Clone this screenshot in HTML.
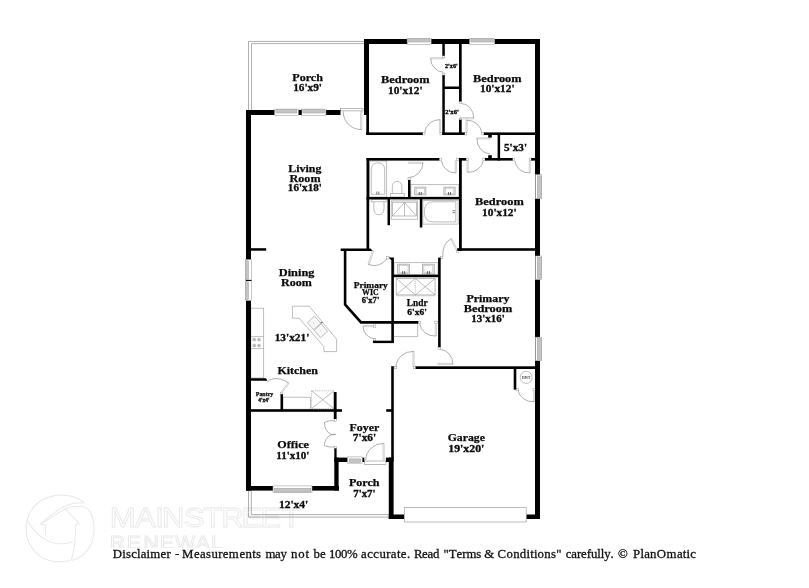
<!DOCTYPE html>
<html lang="en"><head><meta charset="utf-8"><title>Floor plan</title>
<style>
html,body{margin:0;padding:0;background:#fff;}
body{width:809px;height:588px;overflow:hidden;font-family:"Liberation Serif",serif;}
svg{display:block;}
</style></head><body>
<svg width="809" height="588" viewBox="0 0 809 588" style="will-change:transform">
<rect width="809" height="588" fill="#fff"/>
<g id="wm">
<g transform="translate(15,485) scale(0.1445)" fill="none" stroke="#e8e8e8" stroke-width="7" stroke-linejoin="round">
<path d="M85 245 C110 120 250 40 400 80 C440 93 465 108 480 125 C420 118 350 138 300 172 C250 205 210 240 180 268"/>
<path d="M175 272 L345 165 L445 265 L420 275 C420 360 412 440 390 522 M175 272 L210 277 V350"/>
<path d="M345 163 C420 140 480 140 512 172 C562 250 560 380 500 452 C470 490 430 515 390 522"/>
<path d="M85 245 C60 330 90 430 170 490 C230 532 310 542 378 522 M85 245 C130 320 200 390 290 405 C330 410 370 405 402 395"/>
</g>
<text transform="scale(1.1,1)" x="99.75 122.84 141.15 147.39 166.96 184.71 201.26 219.61 236.66 256.12" y="527.4" font-family="'Liberation Sans', sans-serif" font-size="28.4" fill="#fff" stroke="#e8e8e8" stroke-width="0.85">MAINSTREET</text>
<clipPath id="rc"><rect x="100" y="530" width="140" height="18"/></clipPath>
<g clip-path="url(#rc)">
<text transform="scale(1.17,1)" x="93.87 108.28 122.40 136.50 149.53 167.30 180.24" y="549.2" font-family="'Liberation Sans', sans-serif" font-size="18.4" fill="#fff" stroke="#e8e8e8" stroke-width="0.85">RENEWAL</text>
</g>
</g>
<g id="thin">
<path d="M248.5 110 V41.45 H364" stroke="#8c8c8c" stroke-width="0.7" fill="none" />
<path d="M251.5 110 V43.6 H364" stroke="#8c8c8c" stroke-width="0.7" fill="none" />
<path d="M248.5 490.5 V517.1 H389" stroke="#8c8c8c" stroke-width="0.7" fill="none" />
<path d="M251.3 490.5 V514.6 H389" stroke="#8c8c8c" stroke-width="0.7" fill="none" />
</g>
<g id="fix">
<rect x="369.50" y="161.00" width="17.20" height="36.00" fill="none" stroke="#a2a2a2" stroke-width="0.7" />
<path d="M371.3 194.3 V170 Q371.3 162.8 378 162.8 Q384.7 162.8 384.7 170 V194.3 Z" stroke="#a2a2a2" stroke-width="0.7" fill="none" />
<line x1="376.80" y1="191.50" x2="376.80" y2="194.50" stroke="#555" stroke-width="0.8"/>
<line x1="378.80" y1="191.50" x2="378.80" y2="194.50" stroke="#555" stroke-width="0.8"/>
<rect x="390.70" y="193.40" width="13.50" height="3.60" fill="none" stroke="#a2a2a2" stroke-width="0.7" />
<path d="M392.3 193.4 V187 Q392.3 181.4 397.1 181.4 Q401.9 181.4 401.9 187 V193.4" stroke="#a2a2a2" stroke-width="0.7" fill="none" />
<rect x="410.90" y="184.70" width="47.90" height="12.30" fill="none" stroke="#a2a2a2" stroke-width="0.7" />
<rect x="414.70" y="187.10" width="11.20" height="7.80" fill="#e6e6e6" stroke="#a2a2a2" stroke-width="0.7" />
<rect x="416.20" y="188.30" width="8.20" height="5.40" fill="#fff" stroke="#b5b5b5" stroke-width="0.5" />
<line x1="419.30" y1="192.00" x2="419.30" y2="195.00" stroke="#444" stroke-width="0.8"/>
<line x1="421.30" y1="192.00" x2="421.30" y2="195.00" stroke="#444" stroke-width="0.8"/>
<rect x="443.90" y="187.10" width="11.20" height="7.80" fill="#e6e6e6" stroke="#a2a2a2" stroke-width="0.7" />
<rect x="445.40" y="188.30" width="8.20" height="5.40" fill="#fff" stroke="#b5b5b5" stroke-width="0.5" />
<line x1="448.50" y1="192.00" x2="448.50" y2="195.00" stroke="#444" stroke-width="0.8"/>
<line x1="450.50" y1="192.00" x2="450.50" y2="195.00" stroke="#444" stroke-width="0.8"/>
<rect x="371.20" y="199.40" width="15.00" height="2.40" fill="none" stroke="#a2a2a2" stroke-width="0.7" />
<path d="M373.8 201.8 V208 Q373.8 214.7 378.9 214.7 Q384 214.7 384 208 V201.8" stroke="#a2a2a2" stroke-width="0.7" fill="none" />
<rect x="391.20" y="200.90" width="26.50" height="18.30" fill="none" stroke="#a2a2a2" stroke-width="0.7" />
<rect x="392.40" y="202.20" width="24.10" height="13.80" fill="none" stroke="#a2a2a2" stroke-width="0.7" />
<path d="M404.5 202.4 L392.6 215.9 M404.5 202.4 L416.4 215.9 M404.5 202.4 V215.9" stroke="#a2a2a2" stroke-width="0.7" fill="none" />
<rect x="422.90" y="200.30" width="35.20" height="23.80" fill="none" stroke="#a2a2a2" stroke-width="0.7" />
<path d="M455.8 201.8 H433 Q424.4 201.8 424.4 211.8 Q424.4 221.9 433 221.9 H455.8 Z" stroke="#a2a2a2" stroke-width="0.7" fill="none" />
<line x1="452.50" y1="210.70" x2="455.00" y2="210.70" stroke="#555" stroke-width="0.8"/>
<line x1="452.50" y1="212.70" x2="455.00" y2="212.70" stroke="#555" stroke-width="0.8"/>
<rect x="394.00" y="262.70" width="44.00" height="12.10" fill="none" stroke="#a2a2a2" stroke-width="0.7" />
<rect x="397.70" y="264.20" width="11.90" height="9.80" fill="#e6e6e6" stroke="#a2a2a2" stroke-width="0.7" />
<rect x="399.30" y="265.40" width="8.70" height="7.20" fill="#fff" stroke="#b5b5b5" stroke-width="0.5" />
<line x1="402.70" y1="271.00" x2="402.70" y2="274.20" stroke="#444" stroke-width="0.8"/>
<line x1="404.70" y1="271.00" x2="404.70" y2="274.20" stroke="#444" stroke-width="0.8"/>
<rect x="422.40" y="264.20" width="11.90" height="9.80" fill="#e6e6e6" stroke="#a2a2a2" stroke-width="0.7" />
<rect x="424.00" y="265.40" width="8.70" height="7.20" fill="#fff" stroke="#b5b5b5" stroke-width="0.5" />
<line x1="427.40" y1="271.00" x2="427.40" y2="274.20" stroke="#444" stroke-width="0.8"/>
<line x1="429.40" y1="271.00" x2="429.40" y2="274.20" stroke="#444" stroke-width="0.8"/>
<rect x="396.20" y="278.40" width="38.90" height="16.50" fill="none" stroke="#a2a2a2" stroke-width="0.7" />
<line x1="396.20" y1="295.80" x2="435.10" y2="295.80" stroke="#a2a2a2" stroke-width="0.5"/>
<path d="M396.2 278.4 L415.3 294.9 M415.3 278.4 L396.2 294.9 M415.3 278.4 L435.1 294.9 M435.1 278.4 L415.3 294.9" stroke="#a2a2a2" stroke-width="0.7" fill="none" />
<path d="M415.3 278.4 V294.9" stroke="#a2a2a2" stroke-width="0.7" fill="none" stroke-dasharray="1.2 1"/>
<path d="M394 336.6 H417.7 V323.6" stroke="#a2a2a2" stroke-width="0.7" fill="none" />
<rect x="250.80" y="308.20" width="12.90" height="69.80" fill="none" stroke="#a2a2a2" stroke-width="0.7" />
<line x1="250.80" y1="336.60" x2="263.70" y2="336.60" stroke="#a2a2a2" stroke-width="0.7"/>
<line x1="250.80" y1="348.60" x2="263.70" y2="348.60" stroke="#a2a2a2" stroke-width="0.7"/>
<circle cx="254.2" cy="339.6" r="1.5" fill="#bdbdbd" stroke="#9a9a9a" stroke-width="0.4"/>
<circle cx="259" cy="339.6" r="1.5" fill="#bdbdbd" stroke="#9a9a9a" stroke-width="0.4"/>
<circle cx="254.2" cy="345.5" r="1.5" fill="#bdbdbd" stroke="#9a9a9a" stroke-width="0.4"/>
<circle cx="259" cy="345.5" r="1.5" fill="#bdbdbd" stroke="#9a9a9a" stroke-width="0.4"/>
<path d="M292.4 306.2 H309.2 L336.6 339.2 V351.6 H323.9 V346.7 L299.2 318.2 H292.4 Z" stroke="#a2a2a2" stroke-width="0.7" fill="none" />
<path d="M314.4 316 L320.9 323.2 L313.7 329.7 L307.4 322.7 Z" stroke="#a2a2a2" stroke-width="0.7" fill="#f7f7f7" />
<path d="M321.2 323.8 L327.6 331.2 L320.6 337.6 L314.2 330.4 Z" stroke="#a2a2a2" stroke-width="0.7" fill="#f7f7f7" />
<circle cx="321.6" cy="322.6" r="0.9" fill="#666"/>
<circle cx="313.8" cy="323" r="0.4" fill="#888"/><circle cx="320.8" cy="330.8" r="0.4" fill="#888"/>
<rect x="283.00" y="397.20" width="27.40" height="12.00" fill="none" stroke="#a2a2a2" stroke-width="0.7" />
<rect x="311.60" y="390.80" width="22.40" height="17.80" fill="none" stroke="#a2a2a2" stroke-width="0.7" stroke-dasharray="1 0.8"/>
<path d="M311.6 390.8 L334 408.6 M334 390.8 L311.6 408.6" stroke="#a2a2a2" stroke-width="0.7" fill="none" />
<circle cx="526.2" cy="377.4" r="6" fill="#fff" stroke="#a2a2a2" stroke-width="0.7"/>
<text x="526.2" y="378.6" text-anchor="middle" font-family="'Liberation Serif', serif" font-weight="bold" font-size="3.4" fill="#333">HWT</text>
</g>
<g id="doors">
<rect x="340.50" y="108.30" width="22.50" height="2.60" fill="#fff" stroke="#8c8c8c" stroke-width="0.6" />
<path d="M360.60 111.00 L360.60 129.60 L361.80 129.60 L361.80 111.00 Z" stroke="#a4a4a4" stroke-width="0.5" fill="#fff" />
<path d="M343.20 111.50 A18 18 0 0 0 361.20 129.60" stroke="#8c8c8c" stroke-width="0.7" fill="none" />
<path d="M443.50 57.70 L430.70 57.70 L430.70 58.90 L443.50 58.90 Z" stroke="#a4a4a4" stroke-width="0.5" fill="#fff" />
<path d="M430.70 58.30 A13.5 13.5 0 0 0 443.50 72.20" stroke="#8c8c8c" stroke-width="0.7" fill="none" />
<rect x="442.40" y="55.40" width="2.40" height="2.40" fill="#fff" stroke="#999" stroke-width="0.5" />
<rect x="442.40" y="73.00" width="2.40" height="2.40" fill="#fff" stroke="#999" stroke-width="0.5" />
<path d="M460.30 118.80 L473.60 118.80 L473.60 117.60 L460.30 117.60 Z" stroke="#a4a4a4" stroke-width="0.5" fill="#fff" />
<path d="M473.60 118.20 A14 14 0 0 0 460.30 103.20" stroke="#8c8c8c" stroke-width="0.7" fill="none" />
<rect x="459.20" y="101.20" width="2.40" height="2.40" fill="#fff" stroke="#999" stroke-width="0.5" />
<rect x="459.20" y="118.40" width="2.40" height="2.40" fill="#fff" stroke="#999" stroke-width="0.5" />
<path d="M440.60 132.50 L440.60 119.70 L439.40 119.70 L439.40 132.50 Z" stroke="#a4a4a4" stroke-width="0.5" fill="#fff" />
<path d="M440.00 119.70 A15 15 0 0 0 424.50 133.00" stroke="#8c8c8c" stroke-width="0.7" fill="none" />
<rect x="422.60" y="132.50" width="2.40" height="2.40" fill="#fff" stroke="#999" stroke-width="0.5" />
<rect x="440.00" y="132.50" width="2.40" height="2.40" fill="#fff" stroke="#999" stroke-width="0.5" />
<path d="M467.20 132.50 L467.20 120.20 L466.00 120.20 L466.00 132.50 Z" stroke="#a4a4a4" stroke-width="0.5" fill="#fff" />
<path d="M466.60 120.20 A15 15 0 0 1 481.90 133.00" stroke="#8c8c8c" stroke-width="0.7" fill="none" />
<rect x="464.40" y="132.50" width="2.40" height="2.40" fill="#fff" stroke="#999" stroke-width="0.5" />
<rect x="481.80" y="132.50" width="2.40" height="2.40" fill="#fff" stroke="#999" stroke-width="0.5" />
<path d="M490.00 137.80 L477.00 137.80 L477.00 139.00 L490.00 139.00 Z" stroke="#a4a4a4" stroke-width="0.5" fill="#fff" />
<path d="M477.00 138.40 A14.5 14.5 0 0 0 490.00 154.00" stroke="#8c8c8c" stroke-width="0.7" fill="none" />
<rect x="488.20" y="135.00" width="3.60" height="2.60" fill="#000" />
<rect x="488.20" y="155.20" width="3.60" height="2.80" fill="#000" />
<path d="M455.20 160.50 L455.20 172.50 L456.40 172.50 L456.40 160.50 Z" stroke="#a4a4a4" stroke-width="0.5" fill="#fff" />
<path d="M441.40 160.50 A14 14 0 0 0 455.80 172.90" stroke="#8c8c8c" stroke-width="0.7" fill="none" />
<rect x="439.10" y="158.10" width="2.40" height="2.40" fill="#fff" stroke="#999" stroke-width="0.5" />
<rect x="456.40" y="158.10" width="2.40" height="2.40" fill="#fff" stroke="#999" stroke-width="0.5" />
<path d="M467.00 160.50 L467.00 172.30 L468.20 172.30 L468.20 160.50 Z" stroke="#a4a4a4" stroke-width="0.5" fill="#fff" />
<path d="M467.60 172.30 A15 15 0 0 0 483.40 160.50" stroke="#8c8c8c" stroke-width="0.7" fill="none" />
<rect x="466.00" y="158.10" width="2.40" height="2.40" fill="#fff" stroke="#999" stroke-width="0.5" />
<rect x="482.80" y="158.10" width="2.40" height="2.40" fill="#fff" stroke="#999" stroke-width="0.5" />
<path d="M529.20 160.50 L529.20 172.80 L530.40 172.80 L530.40 160.50 Z" stroke="#a4a4a4" stroke-width="0.5" fill="#fff" />
<path d="M514.70 160.50 A14 14 0 0 0 529.80 172.80" stroke="#8c8c8c" stroke-width="0.7" fill="none" />
<rect x="512.30" y="158.10" width="2.40" height="2.40" fill="#fff" stroke="#999" stroke-width="0.5" />
<rect x="529.40" y="158.10" width="2.40" height="2.40" fill="#fff" stroke="#999" stroke-width="0.5" />
<path d="M408.50 163.40 L422.90 163.40 L422.90 162.20 L408.50 162.20 Z" stroke="#a4a4a4" stroke-width="0.5" fill="#fff" />
<path d="M422.90 162.80 A14.7 14.7 0 0 1 408.50 177.60" stroke="#8c8c8c" stroke-width="0.7" fill="none" />
<rect x="408.00" y="177.60" width="2.40" height="2.40" fill="#fff" stroke="#999" stroke-width="0.5" />
<path d="M372.43 250.71 L367.93 264.31 L369.07 264.69 L373.57 251.09 Z" stroke="#a4a4a4" stroke-width="0.5" fill="#fff" />
<path d="M368.5 264.5 Q379 268.5 387.4 258.4" stroke="#8c8c8c" stroke-width="0.7" fill="none" />
<rect x="386.70" y="256.70" width="2.40" height="2.40" fill="#fff" stroke="#999" stroke-width="0.5" />
<path d="M458.03 250.93 L451.73 238.53 L450.67 239.07 L456.97 251.47 Z" stroke="#a4a4a4" stroke-width="0.5" fill="#fff" />
<path d="M451.2 238.8 Q442 243.5 442.8 256.6" stroke="#8c8c8c" stroke-width="0.7" fill="none" />
<rect x="456.40" y="250.20" width="2.40" height="2.40" fill="#fff" stroke="#999" stroke-width="0.5" />
<rect x="440.40" y="256.40" width="2.40" height="2.40" fill="#fff" stroke="#999" stroke-width="0.5" />
<path d="M375.50 325.50 L363.00 325.50 L363.00 326.70 L375.50 326.70 Z" stroke="#a4a4a4" stroke-width="0.5" fill="#fff" />
<path d="M363.00 326.40 A13 13 0 0 0 375.30 339.00" stroke="#8c8c8c" stroke-width="0.7" fill="none" />
<rect x="373.40" y="325.00" width="2.40" height="2.40" fill="#fff" stroke="#999" stroke-width="0.5" />
<rect x="373.40" y="338.40" width="2.40" height="2.40" fill="#fff" stroke="#999" stroke-width="0.5" />
<path d="M435.30 321.20 L435.30 336.00 L436.50 336.00 L436.50 321.20 Z" stroke="#a4a4a4" stroke-width="0.5" fill="#fff" />
<path d="M419.60 323.20 A15 15 0 0 0 435.60 336.00" stroke="#8c8c8c" stroke-width="0.7" fill="none" />
<rect x="418.40" y="321.20" width="2.40" height="2.40" fill="#fff" stroke="#999" stroke-width="0.5" />
<rect x="434.80" y="321.20" width="2.40" height="2.40" fill="#fff" stroke="#999" stroke-width="0.5" />
<path d="M438.00 364.60 L452.80 364.60 L452.80 363.40 L438.00 363.40 Z" stroke="#a4a4a4" stroke-width="0.5" fill="#fff" />
<path d="M452.80 364.00 A14.5 14.5 0 0 0 440.00 349.20" stroke="#8c8c8c" stroke-width="0.7" fill="none" />
<rect x="438.00" y="347.10" width="2.40" height="2.40" fill="#fff" stroke="#999" stroke-width="0.5" />
<path d="M414.10 366.60 L414.10 351.40 L412.90 351.40 L412.90 366.60 Z" stroke="#a4a4a4" stroke-width="0.5" fill="#fff" />
<path d="M413.50 351.40 A17 17 0 0 0 395.80 367.00" stroke="#8c8c8c" stroke-width="0.7" fill="none" />
<rect x="394.40" y="366.40" width="2.40" height="2.40" fill="#fff" stroke="#999" stroke-width="0.5" />
<rect x="413.40" y="366.40" width="2.40" height="2.40" fill="#fff" stroke="#999" stroke-width="0.5" />
<path d="M533.70 389.60 L533.70 401.60 L534.90 401.60 L534.90 389.60 Z" stroke="#a4a4a4" stroke-width="0.5" fill="#fff" />
<path d="M517.70 389.80 A15 15 0 0 0 534.30 401.60" stroke="#8c8c8c" stroke-width="0.7" fill="none" />
<rect x="516.00" y="388.40" width="2.40" height="2.40" fill="#fff" stroke="#999" stroke-width="0.5" />
<rect x="533.00" y="388.40" width="2.40" height="2.40" fill="#fff" stroke="#999" stroke-width="0.5" />
<path d="M281.08 393.96 L289.18 383.36 L288.22 382.64 L280.12 393.24 Z" stroke="#a4a4a4" stroke-width="0.5" fill="#fff" />
<path d="M288.7 383 Q280 377.2 272.5 379 Q268.5 380 267.6 382" stroke="#8c8c8c" stroke-width="0.7" fill="none" />
<rect x="280.20" y="392.80" width="2.40" height="2.40" fill="#fff" stroke="#999" stroke-width="0.5" />
<path d="M335.4 420.6 Q329 420 324.4 422.5 Q324.6 431 331 434.3 L335.6 434.4" stroke="#8c8c8c" stroke-width="0.7" fill="none" />
<path d="M335.4 447 Q329 447.6 324.4 445.6 Q324.6 438 331 434.9 L335.6 434.6" stroke="#8c8c8c" stroke-width="0.7" fill="none" />
<rect x="334.20" y="418.80" width="2.40" height="2.40" fill="#fff" stroke="#999" stroke-width="0.5" />
<rect x="334.20" y="446.40" width="2.40" height="2.40" fill="#fff" stroke="#999" stroke-width="0.5" />
<rect x="364.40" y="461.00" width="21.60" height="3.40" fill="#fff" stroke="#8c8c8c" stroke-width="0.6" />
<path d="M384.20 460.00 L384.20 443.40 L383.00 443.40 L383.00 460.00 Z" stroke="#a4a4a4" stroke-width="0.5" fill="#fff" />
<path d="M383.60 443.40 A17.5 17.5 0 0 0 365.70 460.00" stroke="#8c8c8c" stroke-width="0.7" fill="none" />
</g>
<g id="walls">
<rect x="364.00" y="39.00" width="176.00" height="5.00" fill="#000" />
<rect x="364.00" y="39.00" width="5.00" height="76.00" fill="#000" />
<rect x="366.30" y="114.00" width="2.70" height="21.00" fill="#000" />
<rect x="535.00" y="39.00" width="5.00" height="480.00" fill="#000" />
<rect x="246.00" y="110.00" width="94.50" height="5.00" fill="#000" />
<rect x="246.00" y="110.00" width="5.00" height="380.60" fill="#000" />
<rect x="246.00" y="486.00" width="93.00" height="4.60" fill="#000" />
<rect x="334.30" y="448.40" width="2.30" height="9.60" fill="#000" />
<rect x="334.30" y="457.60" width="4.30" height="33.00" fill="#000" />
<rect x="334.30" y="457.60" width="13.40" height="4.40" fill="#000" />
<rect x="362.00" y="457.60" width="2.30" height="4.40" fill="#000" />
<rect x="385.90" y="457.60" width="7.70" height="4.40" fill="#000" />
<rect x="391.20" y="366.20" width="2.60" height="91.80" fill="#000" />
<rect x="388.80" y="457.60" width="4.80" height="61.40" fill="#000" />
<rect x="388.80" y="514.50" width="15.50" height="4.50" fill="#000" />
<rect x="526.20" y="514.50" width="13.80" height="4.50" fill="#000" />
<rect x="366.30" y="132.40" width="56.40" height="2.60" fill="#000" />
<rect x="442.30" y="132.40" width="22.40" height="2.60" fill="#000" />
<rect x="483.80" y="132.40" width="52.20" height="2.60" fill="#000" />
<rect x="442.30" y="43.00" width="2.50" height="12.70" fill="#000" />
<rect x="442.30" y="75.20" width="2.50" height="59.80" fill="#000" />
<rect x="459.00" y="43.00" width="2.70" height="58.50" fill="#000" />
<rect x="459.00" y="119.70" width="2.70" height="15.30" fill="#000" />
<rect x="444.00" y="86.50" width="16.00" height="2.50" fill="#000" />
<rect x="497.60" y="134.00" width="2.50" height="26.50" fill="#000" />
<rect x="366.50" y="158.00" width="72.80" height="2.60" fill="#000" />
<rect x="459.00" y="158.00" width="7.20" height="2.60" fill="#000" />
<rect x="484.90" y="158.00" width="27.70" height="2.60" fill="#000" />
<rect x="531.20" y="158.00" width="4.80" height="2.60" fill="#000" />
<rect x="366.50" y="158.00" width="2.70" height="93.00" fill="#000" />
<rect x="459.00" y="158.00" width="2.80" height="92.80" fill="#000" />
<rect x="457.20" y="248.20" width="78.80" height="2.60" fill="#000" />
<rect x="366.50" y="197.00" width="93.50" height="2.40" fill="#000" />
<rect x="408.00" y="180.00" width="2.50" height="18.00" fill="#000" />
<rect x="387.50" y="198.00" width="2.50" height="27.20" fill="#000" />
<rect x="419.80" y="198.00" width="2.50" height="29.50" fill="#000" />
<path d="M340.7 248.4 H370.6 L372.6 251 H340.7 Z" fill="#000"/>
<path d="M343.8 250 H346.4 V304 L361.6 321.1 H418.2 V323.7 H360.4 L343.8 305 Z" fill="#000"/>
<path d="M391.3 260.2 L388.6 257.4 L393.9 257.4 V343.1 H391.3 Z" fill="#000"/>
<rect x="372.90" y="340.70" width="21.00" height="2.40" fill="#000" />
<rect x="438.10" y="257.60" width="2.60" height="89.60" fill="#000" />
<rect x="393.00" y="274.70" width="46.00" height="2.50" fill="#000" />
<rect x="250.00" y="248.20" width="16.20" height="2.50" fill="#000" />
<path d="M250 378.2 H266 L267.4 380.8 H250 Z" fill="#000"/>
<rect x="280.50" y="394.20" width="2.50" height="15.80" fill="#000" />
<rect x="250.00" y="409.20" width="92.00" height="2.60" fill="#000" />
<rect x="333.80" y="392.00" width="2.80" height="27.00" fill="#000" />
<rect x="386.20" y="409.20" width="5.80" height="2.60" fill="#000" />
<rect x="415.60" y="366.30" width="120.40" height="2.70" fill="#000" />
<rect x="513.70" y="368.00" width="2.60" height="21.60" fill="#000" />
</g>
<g id="win">
<rect x="407.20" y="38.30" width="23.90" height="6.00" fill="#fff" stroke="#a4a4a4" stroke-width="0.6" />
<rect x="408.40" y="38.80" width="21.50" height="3.20" fill="#c4c4c4" stroke="#9c9c9c" stroke-width="0.5" />
<rect x="469.60" y="38.30" width="25.00" height="6.00" fill="#fff" stroke="#a4a4a4" stroke-width="0.6" />
<rect x="470.80" y="38.80" width="22.60" height="3.20" fill="#c4c4c4" stroke="#9c9c9c" stroke-width="0.5" />
<rect x="274.70" y="109.10" width="23.90" height="6.30" fill="#fff" stroke="#a4a4a4" stroke-width="0.6" />
<rect x="275.90" y="109.70" width="21.00" height="3.30" fill="#c4c4c4" stroke="#9c9c9c" stroke-width="0.5" />
<rect x="301.60" y="109.10" width="24.30" height="6.30" fill="#fff" stroke="#a4a4a4" stroke-width="0.6" />
<rect x="302.80" y="109.70" width="21.80" height="3.30" fill="#c4c4c4" stroke="#9c9c9c" stroke-width="0.5" />
<rect x="298.80" y="109.90" width="2.80" height="5.10" fill="#000" />
<rect x="273.00" y="485.90" width="39.00" height="6.50" fill="#fff" stroke="#a4a4a4" stroke-width="0.6" />
<rect x="274.20" y="488.30" width="36.60" height="3.70" fill="#c4c4c4" stroke="#9c9c9c" stroke-width="0.5" />
<rect x="347.70" y="456.90" width="14.50" height="6.30" fill="#fff" stroke="#a4a4a4" stroke-width="0.6" />
<rect x="349.20" y="458.90" width="11.50" height="3.50" fill="#c4c4c4" stroke="#9c9c9c" stroke-width="0.5" />
<rect x="245.30" y="259.60" width="6.30" height="20.60" fill="#fff" stroke="#a4a4a4" stroke-width="0.6" />
<rect x="245.50" y="260.80" width="2.90" height="18.40" fill="#c4c4c4" stroke="#9c9c9c" stroke-width="0.5" />
<rect x="245.30" y="280.60" width="6.30" height="20.00" fill="#fff" stroke="#a4a4a4" stroke-width="0.6" />
<rect x="245.50" y="281.80" width="2.90" height="17.80" fill="#c4c4c4" stroke="#9c9c9c" stroke-width="0.5" />
<rect x="246.00" y="279.90" width="5.40" height="1.10" fill="#000" />
<rect x="535.50" y="174.70" width="6.20" height="24.00" fill="#fff" stroke="#a4a4a4" stroke-width="0.6" />
<rect x="537.30" y="175.90" width="4.10" height="21.60" fill="#c4c4c4" stroke="#9c9c9c" stroke-width="0.5" />
<rect x="535.50" y="256.00" width="6.20" height="23.60" fill="#fff" stroke="#a4a4a4" stroke-width="0.6" />
<rect x="537.30" y="257.20" width="4.10" height="21.20" fill="#c4c4c4" stroke="#9c9c9c" stroke-width="0.5" />
<rect x="535.50" y="337.20" width="6.20" height="23.50" fill="#fff" stroke="#a4a4a4" stroke-width="0.6" />
<rect x="537.30" y="338.40" width="4.10" height="21.10" fill="#c4c4c4" stroke="#9c9c9c" stroke-width="0.5" />
<rect x="404.30" y="507.50" width="121.90" height="14.50" fill="#fff" stroke="#a0a0a0" stroke-width="0.7" />
</g>
<g id="labels" font-family="'Liberation Serif', serif" font-weight="bold" fill="#0a0a0a" stroke="#0a0a0a" stroke-width="0.25" text-anchor="middle">
<text x="307.6" y="80.6" font-size="11" textLength="30.6" lengthAdjust="spacingAndGlyphs">Porch</text>
<text x="307.6" y="90.7" font-size="9.90" stroke-width="0.3" textLength="28.7" lengthAdjust="spacingAndGlyphs">16'x9'</text>
<text x="405.3" y="83.2" font-size="11" textLength="48.6" lengthAdjust="spacingAndGlyphs">Bedroom</text>
<text x="405.3" y="93.6" font-size="9.90" stroke-width="0.3" textLength="34.6" lengthAdjust="spacingAndGlyphs">10'x12'</text>
<text x="497.3" y="81.7" font-size="11" textLength="48.6" lengthAdjust="spacingAndGlyphs">Bedroom</text>
<text x="497.3" y="91.7" font-size="9.90" stroke-width="0.3" textLength="34.6" lengthAdjust="spacingAndGlyphs">10'x12'</text>
<text x="515.5" y="151.2" font-size="9.90" stroke-width="0.3" textLength="23.0" lengthAdjust="spacingAndGlyphs">5'x3'</text>
<text x="304.9" y="171.5" font-size="11" textLength="33.1" lengthAdjust="spacingAndGlyphs">Living</text>
<text x="305.0" y="181.5" font-size="11" textLength="31.0" lengthAdjust="spacingAndGlyphs">Room</text>
<text x="304.9" y="191.4" font-size="9.90" stroke-width="0.3" textLength="34.1" lengthAdjust="spacingAndGlyphs">16'x18'</text>
<text x="499.4" y="205.1" font-size="11" textLength="48.6" lengthAdjust="spacingAndGlyphs">Bedroom</text>
<text x="499.4" y="215.6" font-size="9.90" stroke-width="0.3" textLength="34.6" lengthAdjust="spacingAndGlyphs">10'x12'</text>
<text x="296.6" y="276.0" font-size="11" textLength="35.6" lengthAdjust="spacingAndGlyphs">Dining</text>
<text x="296.5" y="286.4" font-size="11" textLength="30.8" lengthAdjust="spacingAndGlyphs">Room</text>
<text x="292.0" y="340.7" font-size="9.90" stroke-width="0.3" textLength="34.6" lengthAdjust="spacingAndGlyphs">13'x21'</text>
<text x="297.7" y="373.8" font-size="11" textLength="40.5" lengthAdjust="spacingAndGlyphs">Kitchen</text>
<text x="488.0" y="301.5" font-size="11" textLength="43.0" lengthAdjust="spacingAndGlyphs">Primary</text>
<text x="488.0" y="311.8" font-size="11" textLength="48.6" lengthAdjust="spacingAndGlyphs">Bedroom</text>
<text x="488.1" y="322.0" font-size="9.90" stroke-width="0.3" textLength="33.6" lengthAdjust="spacingAndGlyphs">13'x16'</text>
<text x="293.1" y="448.3" font-size="11" textLength="31.6" lengthAdjust="spacingAndGlyphs">Office</text>
<text x="292.8" y="458.6" font-size="9.90" stroke-width="0.3" textLength="33.1" lengthAdjust="spacingAndGlyphs">11'x10'</text>
<text x="364.4" y="430.8" font-size="11" textLength="29.8" lengthAdjust="spacingAndGlyphs">Foyer</text>
<text x="364.5" y="441.3" font-size="9.90" stroke-width="0.3" textLength="23.4" lengthAdjust="spacingAndGlyphs">7'x6'</text>
<text x="364.2" y="486.1" font-size="11" textLength="30.6" lengthAdjust="spacingAndGlyphs">Porch</text>
<text x="364.4" y="496.8" font-size="9.90" stroke-width="0.3" textLength="22.2" lengthAdjust="spacingAndGlyphs">7'x7'</text>
<text x="293.6" y="508.0" font-size="9.90" stroke-width="0.3" textLength="29.4" lengthAdjust="spacingAndGlyphs">12'x4'</text>
<text x="466.3" y="441.3" font-size="11" textLength="37.1" lengthAdjust="spacingAndGlyphs">Garage</text>
<text x="466.3" y="451.8" font-size="9.90" stroke-width="0.3" textLength="36.1" lengthAdjust="spacingAndGlyphs">19'x20'</text>
<text x="370.8" y="287.5" font-size="8.6" textLength="34.1" lengthAdjust="spacingAndGlyphs">Primary</text>
<text x="370.4" y="294.9" font-size="8.6" textLength="16.6" lengthAdjust="spacingAndGlyphs">WIC</text>
<text x="370.5" y="302.6" font-size="7.74" stroke-width="0.3" textLength="17.5" lengthAdjust="spacingAndGlyphs">6'x7'</text>
<text x="417.2" y="306.3" font-size="9.6" textLength="20.7" lengthAdjust="spacingAndGlyphs">Lndr</text>
<text x="417.1" y="314.5" font-size="8.64" stroke-width="0.3" textLength="19.5" lengthAdjust="spacingAndGlyphs">6'x6'</text>
<text x="264.5" y="396.1" font-size="5.6" textLength="17.5" lengthAdjust="spacingAndGlyphs">Pantry</text>
<text x="264.0" y="401.8" font-size="5.04" stroke-width="0.3" textLength="11.3" lengthAdjust="spacingAndGlyphs">4'x4'</text>
<text x="451.4" y="68.0" font-size="5.22" stroke-width="0.3" textLength="12.8" lengthAdjust="spacingAndGlyphs">2'x6'</text>
<text x="452.0" y="113.7" font-size="5.22" stroke-width="0.3" textLength="13.6" lengthAdjust="spacingAndGlyphs">2'x6'</text>
</g>
<text id="disc" x="112.8 122.3 126.0 131.2 137.0 140.7 146.6 150.2 160.5 166.4 171.3 174.9 178.7 181.9 194.0 200.0 206.1 211.4 218.2 222.7 228.8 239.4 245.4 252.2 256.0 261.8 265.6 275.0 280.4 286.9 291.0 298.2 305.5 310.0 313.6 320.0 326.2 329.0 335.0 341.0 347.1 357.6 361.1 367.2 373.3 379.4 386.3 390.8 396.9 400.8 406.9 410.8 414.0 422.1 427.5 432.9 439.5 443.6 448.8 456.6 462.2 466.5 476.3 481.8 484.2 491.9 497.6 506.5 513.2 519.8 526.5 530.2 533.9 537.6 544.3 551.0 556.2 562.1 565.7 571.3 576.9 581.1 586.7 590.9 597.2 600.7 604.2 610.5 614.1 618.0 629.8 633.0 640.4 644.2 650.1 656.8 666.5 676.9 682.8 686.5 690.3" y="557.8" font-family="'Liberation Serif', serif" font-size="12.8" fill="#111" stroke="#111" stroke-width="0.3">Disclaimer - Measurements may not be 100% accurate. Read "Terms &amp; Conditions" carefully. © PlanOmatic</text>
</svg>
</body></html>
